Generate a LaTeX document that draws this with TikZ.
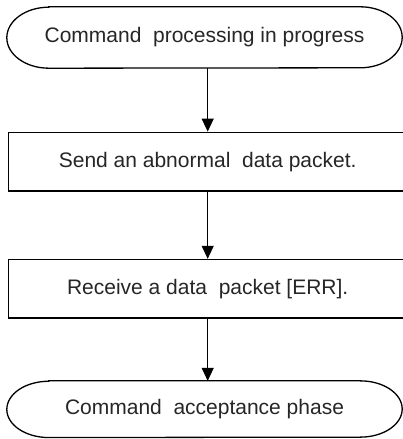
\documentclass[tikz,border=0pt]{standalone}
\usepackage{fontspec}
\setmainfont{Liberation Sans}
\usetikzlibrary{arrows.meta}
\tikzset{
  x=1pt,y=1pt,
  lbl/.style={font=\fontsize{21}{25}\selectfont, text=black!85, inner sep=0pt},
  termbox/.style={lbl, draw=none, minimum width=395pt, minimum height=61pt},
  stepbox/.style={lbl, draw=black, line width=1.3pt, minimum width=398.5pt, minimum height=58.7pt},
  termline/.style={draw=black, line width=1.3pt},
  arr/.style={draw=black, line width=1pt, -{Triangle[length=13pt,width=12pt]}}
}
\begin{document}
\begin{tikzpicture}
\useasboundingbox (0,0) rectangle (403,439);
\node[termbox] (t1) at (204.5,401.5) {Command\ \ processing in progress};
\node[stepbox] (b1) at (207.7,277.4) {Send an abnormal\ \ data packet.};
\node[stepbox] (b2) at (207.7,150.2) {Receive a data\ \ packet [ERR].};
\node[termbox, minimum height=56.3pt] (t2) at (204.5,29.8) {Command\ \ acceptance phase};
\draw[termline] ([xshift=42pt]t1.north west) -- ([xshift=-42pt]t1.north east)
  arc[start angle=90,end angle=-90,x radius=42pt,y radius=30.5pt]
  -- ([xshift=42pt]t1.south west)
  arc[start angle=270,end angle=90,x radius=42pt,y radius=30.5pt] -- cycle;
\draw[termline] ([xshift=42pt]t2.north west) -- ([xshift=-42pt]t2.north east)
  arc[start angle=90,end angle=-90,x radius=42pt,y radius=28.15pt]
  -- ([xshift=42pt]t2.south west)
  arc[start angle=270,end angle=90,x radius=42pt,y radius=28.15pt] -- cycle;
\draw[arr] (b1.north |- t1.south) -- (b1.north);
\draw[arr] (b1.south) -- (b2.north);
\draw[arr] (b2.south) -- (b2.south |- t2.north);
\end{tikzpicture}
\end{document}
